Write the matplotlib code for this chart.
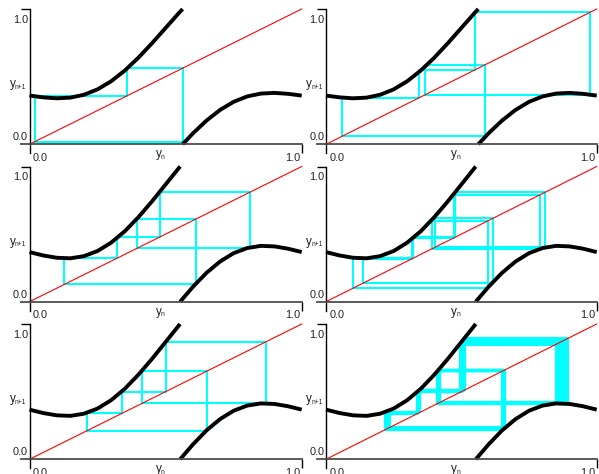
import matplotlib
matplotlib.use("Agg")
import matplotlib.pyplot as plt

plt.rcParams['font.family'] = 'Liberation Sans'

# map curves (two parameter settings)
left_x_a = [0, 0.05, 0.10, 0.15, 0.20, 0.25, 0.30, 0.35, 0.40, 0.45, 0.50, 0.55, 0.5625]
left_y_a = [0.360, 0.347, 0.340, 0.345, 0.366, 0.406, 0.466, 0.545, 0.640, 0.747, 0.860, 0.973, 1.0]
right_x_a = [0.5625, 0.60, 0.65, 0.70, 0.75, 0.80, 0.85, 0.90, 0.95, 1.0]
right_y_a = [0.0, 0.080, 0.175, 0.254, 0.314, 0.354, 0.375, 0.380, 0.373, 0.360]

left_x_b = [0, 0.05, 0.10, 0.15, 0.20, 0.25, 0.30, 0.35, 0.40, 0.45, 0.50, 0.55, 0.5533]
left_y_b = [0.367, 0.342, 0.325, 0.321, 0.337, 0.375, 0.437, 0.521, 0.625, 0.742, 0.867, 0.992, 1.0]
right_x_b = [0.5533, 0.60, 0.65, 0.70, 0.75, 0.80, 0.85, 0.90, 0.95, 1.0]
right_y_b = [0.0, 0.109, 0.213, 0.297, 0.359, 0.397, 0.413, 0.409, 0.392, 0.367]

# orbits (y_n values) for each panel
orbit_1 = [0.02, 0.36, 0.565, 0.02]
orbit_2 = [0.06, 0.345, 0.55, 0.975, 0.365, 0.587, 0.06]
orbit_3 = [0.128, 0.32, 0.478, 0.81, 0.394, 0.613, 0.128]
orbit_4 = [0.099, 0.32, 0.478, 0.81, 0.403, 0.618, 0.138, 0.316, 0.472, 0.79, 0.39, 0.597, 0.099]
orbit_5 = [0.21, 0.34, 0.50, 0.87, 0.415, 0.652, 0.21]
orbit_6 = [0.225, 0.342, 0.505, 0.872, 0.418, 0.658,
           0.231, 0.345, 0.511, 0.889, 0.412, 0.653,
           0.219, 0.338, 0.498, 0.851, 0.414, 0.655,
           0.228, 0.344, 0.508, 0.880, 0.420, 0.661,
           0.236, 0.347, 0.513, 0.893, 0.410, 0.652,
           0.218, 0.337, 0.496, 0.848, 0.413, 0.654,
           0.222, 0.340, 0.502, 0.862, 0.421, 0.660,
           0.233, 0.346, 0.510, 0.885, 0.411, 0.653,
           0.220, 0.339, 0.500, 0.856, 0.416, 0.657,
           0.227, 0.343, 0.506, 0.876, 0.419, 0.659,
           0.221, 0.339, 0.501, 0.859, 0.417, 0.656,
           0.230, 0.345, 0.509, 0.883, 0.415, 0.654,
           0.224, 0.341, 0.504, 0.868, 0.420, 0.660,
           0.234, 0.346, 0.512, 0.891, 0.412, 0.652,
           0.223, 0.341, 0.503, 0.865, 0.418, 0.658,
           0.229, 0.344, 0.507, 0.878, 0.417, 0.657,
           0.219, 0.338, 0.499, 0.853, 0.415, 0.655,
           0.232, 0.346, 0.510, 0.887, 0.413, 0.654,
           0.226]

curve_a = (left_x_a, left_y_a, right_x_a, right_y_a)
curve_b = (left_x_b, left_y_b, right_x_b, right_y_b)
panels = [(curve_a, orbit_1), (curve_a, orbit_2),
          (curve_b, orbit_3), (curve_b, orbit_4),
          (curve_b, orbit_5), (curve_b, orbit_6)]

W, H = 599, 474
col_x0 = [29.5, 326.0]
col_x1 = [301.7, 596.7]
row_top = [9.0, 166.5, 324.0]
row_bot = [144.3, 301.7, 459.3]
ext = 9  # px the axis lines run past the origin

fig = plt.figure(figsize=(W / 100, H / 100), dpi=100)

for i, (curve, orbit) in enumerate(panels):
    r, c = divmod(i, 2)
    x0, x1 = col_x0[c], col_x1[c]
    yt, yb = row_top[r], row_bot[r]
    dx = ext / (x1 - x0)
    dy = ext / (yb - yt)
    ax = fig.add_axes([(x0 - ext) / W, (H - yb - ext) / H,
                       (x1 - x0 + ext) / W, (yb - yt + ext) / H])
    ax.set_xlim(-dx, 1)
    ax.set_ylim(-dy, 1)
    ax.patch.set_visible(False)

    # cobweb
    cx, cy = [orbit[0]], [orbit[0]]
    for a, b in zip(orbit[:-1], orbit[1:]):
        cx += [a, b]
        cy += [b, b]
    ax.plot(cx, cy, color='#00ffff', lw=1.5, clip_on=False)

    ax.plot([0, 1], [0, 1], color='red', lw=0.8, clip_on=False)

    lx, ly, rx, ry = curve
    ax.plot(lx, ly, color='black', lw=2.8, clip_on=False, solid_capstyle='butt')
    ax.plot(rx, ry, color='black', lw=2.8, clip_on=False, solid_capstyle='butt')

    for s in ['top', 'right']:
        ax.spines[s].set_visible(False)
    ax.spines['bottom'].set_position(('data', 0))
    ax.spines['left'].set_position(('data', 0))
    ax.spines['bottom'].set_bounds(-dx, 1)
    ax.spines['left'].set_bounds(-dy, 1)
    ax.spines['bottom'].set_color('0.3')
    ax.spines['bottom'].set_linewidth(1.3)
    ax.spines['left'].set_linewidth(1.0)
    ax.set_xticks([1])
    ax.set_yticks([1])
    ax.set_xticklabels([])
    ax.set_yticklabels([])
    ax.tick_params(direction='out', length=6.5, width=1.0)

    fs = 7.8
    kw = dict(textcoords='offset pixels', color='#222222')
    ax.annotate('1.0', (0, 1), xytext=(-1.5, -11), ha='right', va='center', fontsize=fs, **kw)
    ax.annotate('0.0', (0, 0), xytext=(-1.5, 7), ha='right', va='center', fontsize=fs, **kw)
    ax.annotate('0.0', (0, 0), xytext=(3.5, -13.5), ha='left', va='center', fontsize=fs, **kw)
    ax.annotate('1.0', (1, 0), xytext=(-1, -13.5), ha='right', va='center', fontsize=fs, **kw)
    # axis names: big "y" with a tiny subscript
    ax.annotate('y', (0.48, 0), xytext=(-4.5, -13), ha='left', va='baseline', fontsize=8.5, **kw)
    ax.annotate('n', (0.48, 0), xytext=(0.8, -14.5), ha='left', va='baseline', fontsize=4.8, **kw)
    ax.annotate('y', (0, 0.42), xytext=(-20, 0), ha='left', va='baseline', fontsize=8.5, **kw)
    ax.annotate('n+1', (0, 0.42), xytext=(-14.5, -1.5), ha='left', va='baseline', fontsize=4.8, **kw)

fig.savefig('out.png', dpi=100)
